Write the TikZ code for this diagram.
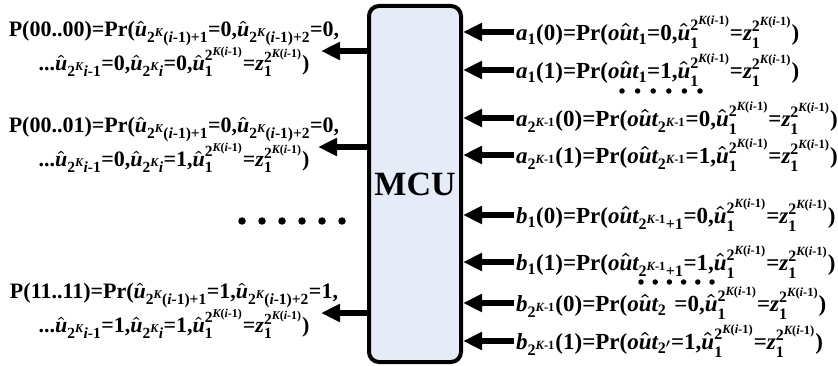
\documentclass[tikz,border=0pt]{standalone}
\usepackage{fontspec}
\setmainfont{Liberation Serif}
\usepackage{amsmath}
\usetikzlibrary{arrows.meta}
\DeclareMathSizes{23}{23}{16}{12.5}
\DeclareMathSizes{22}{22}{15.5}{12}
\definecolor{mcufill}{RGB}{230,236,247}
\newcommand\tb[1]{\text{\bfseries\upshape #1}}
\newcommand\ti[1]{\text{\bfseries\itshape #1}}
\newcommand\uh{\hat{\ti{u}}}
\newcommand\kim{\tb{2}^{\ti{K}\tb{(}\ti{i}\tb{-1)}}}
\newcommand\tailp{\uh_{\tb{1}}^{\kim}\tb{=}\ti{z}_{\tb{1}}^{\kim}\tb{)}}
\newcommand\kk{\tb{2}^{\ti{K}\tb{-1}}}
\newcommand\lsub[1]{\tb{2}^{\ti{K}}\tb{(}\ti{i}\tb{-1)+#1}}
\newcommand\mth[1]{{\boldmath$#1$}}
\begin{document}
\begin{tikzpicture}[x=1pt,y=-1pt,
  arr/.style={line width=5.5pt,-{Triangle[length=19pt,width=17pt]}},
  rtext/.style={anchor=west,inner sep=2pt,font=\fontsize{23}{27}\selectfont},
  ltext/.style={align=center,inner sep=0pt,font=\fontsize{22}{25}\selectfont},
  bigdot/.style={fill,circle,inner sep=0pt,minimum size=7.5pt},
  smalldot/.style={fill,circle,inner sep=0pt,minimum size=5.5pt}]
\useasboundingbox (0,0) rectangle (838,366);
% MCU box
\node[draw,line width=4pt,rounded corners=10pt,fill=mcufill,
  minimum width=92pt,minimum height=356pt,inner sep=0pt,
  font=\fontsize{34}{40}\selectfont\bfseries] (mcu) at (415,184) {MCU};
% right texts
\node[rtext] (r1) at (514,32) {\mth{\ti{a}_{\tb{1}}\tb{(0)=Pr(}\ti{o}\uh\ti{t}_{\tb{1}}\tb{=0,}\tailp}};
\node[rtext] (r2) at (514,70) {\mth{\ti{a}_{\tb{1}}\tb{(1)=Pr(}\ti{o}\uh\ti{t}_{\tb{1}}\tb{=1,}\tailp}};
\node[rtext] (r3) at (514,118) {\mth{\ti{a}_{\kk}\tb{(0)=Pr(}\ti{o}\uh\ti{t}_{\kk}\tb{=0,}\tailp}};
\node[rtext] (r4) at (514,155) {\mth{\ti{a}_{\kk}\tb{(1)=Pr(}\ti{o}\uh\ti{t}_{\kk}\tb{=1,}\tailp}};
\node[rtext] (r5) at (514,215) {\mth{\ti{b}_{\tb{1}}\tb{(0)=Pr(}\ti{o}\uh\ti{t}_{\kk\tb{+1}}\tb{=0,}\tailp}};
\node[rtext] (r6) at (514,262) {\mth{\ti{b}_{\tb{1}}\tb{(1)=Pr(}\ti{o}\uh\ti{t}_{\kk\tb{+1}}\tb{=1,}\tailp}};
\node[rtext] (r7) at (514,303) {\mth{\ti{b}_{\kk}\tb{(0)=Pr(}\ti{o}\uh\ti{t}_{\tb{2}}\;\tb{=0,}\tailp}};
\node[rtext] (r8) at (514,341) {\mth{\ti{b}_{\kk}\tb{(1)=Pr(}\ti{o}\uh\ti{t}_{\tb{2}^{\prime}}\tb{=1,}\tailp}};
\foreach \i in {1,...,8}{\draw[arr] (r\i.west) -- (r\i.west -| mcu.east);}
% left texts
\node[ltext] (l1) at (174,49) {\mth{\tb{P(00..00)=Pr(}\uh_{\lsub{1}}\tb{=0,}\uh_{\lsub{2}}\tb{=0,}}\\
  \mth{\tb{...}\uh_{\tb{2}^{\ti{K}}\ti{i}\tb{-1}}\tb{=0,}\uh_{\tb{2}^{\ti{K}}\ti{i}}\tb{=0,}\tailp}};
\node[ltext] (l2) at (174,145) {\mth{\tb{P(00..01)=Pr(}\uh_{\lsub{1}}\tb{=0,}\uh_{\lsub{2}}\tb{=0,}}\\
  \mth{\tb{...}\uh_{\tb{2}^{\ti{K}}\ti{i}\tb{-1}}\tb{=0,}\uh_{\tb{2}^{\ti{K}}\ti{i}}\tb{=1,}\tailp}};
\node[ltext] (l3) at (174,311) {\mth{\tb{P(11..11)=Pr(}\uh_{\lsub{1}}\tb{=1,}\uh_{\lsub{2}}\tb{=1,}}\\
  \mth{\tb{...}\uh_{\tb{2}^{\ti{K}}\ti{i}\tb{-1}}\tb{=1,}\uh_{\tb{2}^{\ti{K}}\ti{i}}\tb{=1,}\tailp}};
\coordinate (t1) at (321,51);
\coordinate (t2) at (318,147);
\coordinate (t3) at (321,313);
\foreach \i in {1,2,3}{\draw[arr] (mcu.west |- t\i) -- (t\i);}
% dots
\foreach \k in {0,...,5}{
  \node[bigdot] (ld\k) at (242+20*\k,221) {};
  \node[smalldot] (rd\k) at (622+15.6*\k,91) {};
  \node[smalldot] (rb\k) at (641+14.2*\k,282) {};
}
\end{tikzpicture}
\end{document}
